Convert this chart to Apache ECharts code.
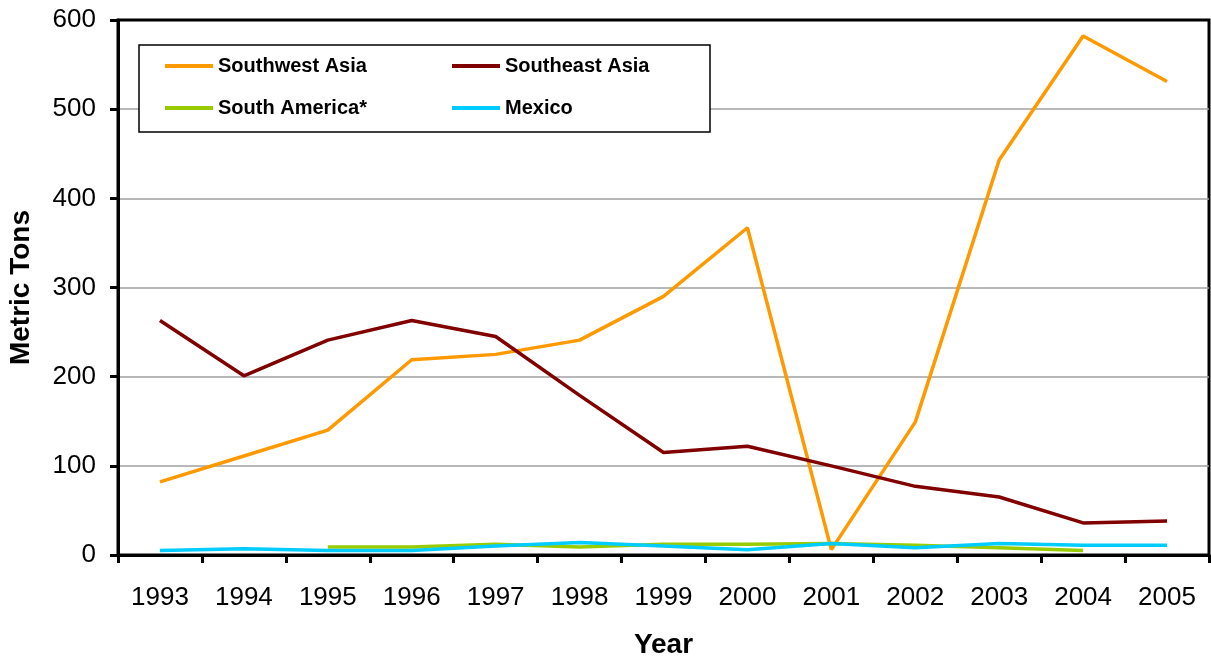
<!DOCTYPE html>
<html>
<head>
<meta charset="utf-8">
<script src="https://cdn.jsdelivr.net/npm/echarts@6/dist/echarts.min.js"></script>
<style>
  html, body { margin: 0; padding: 0; background: #fff; }
  #chart { width: 1211px; height: 658px; }
</style>
</head>
<body>
<div id="chart"></div>
<script>
const years = ['1993', '1994', '1995', '1996', '1997', '1998', '1999', '2000', '2001', '2002', '2003', '2004', '2005'];
const southwestAsia = [82, 111, 140, 219, 225, 241, 290, 367, 6, 149, 443, 582, 531];
const southeastAsia = [263, 201, 241, 263, 245, 179, 115, 122, 100, 77, 65, 36, 38];
const southAmerica = [null, null, 9, 9, 12, 9, 12, 12, 13, 11, 8, 5, null];
const mexico = [5, 7, 5, 5, 10, 14, 10, 6, 13, 8, 13, 11, 11];

const font = "'Liberation Sans', Arial, sans-serif";

const chart = echarts.init(document.getElementById('chart'));

const lineSeries = (name, data, color) => ({
  name,
  type: 'line',
  data,
  symbol: 'none',
  connectNulls: false,
  lineStyle: { color, width: 3.5 },
  itemStyle: { color },
  emphasis: { disabled: true },
});

const legendBase = {
  orient: 'vertical',
  top: 56,
  padding: 0,
  icon: 'rect',
  itemWidth: 48,
  itemHeight: 4,
  itemGap: 22,
  textStyle: { fontFamily: font, fontSize: 20, fontWeight: 'bold', color: '#000' },
  z: 5,
};

chart.setOption({
  animation: false,
  grid: {
    left: 118, right: 2, top: 20, bottom: 103,
    outerBoundsMode: 'none',
    containLabel: false,
    show: true, borderColor: '#000', borderWidth: 3,
  },
  graphic: [{
    type: 'rect',
    shape: { x: 139, y: 45, width: 571, height: 87 },
    style: { fill: '#fff', stroke: '#000', lineWidth: 1.5 },
    z: 3,
  }],
  legend: [
    Object.assign({ left: 165, data: ['Southwest Asia', 'South America*'] }, legendBase),
    Object.assign({ left: 452, data: ['Southeast Asia', 'Mexico'] }, legendBase),
  ],
  xAxis: {
    type: 'category',
    data: years,
    boundaryGap: true,
    name: 'Year',
    nameLocation: 'middle',
    nameGap: 76,
    nameTextStyle: { fontFamily: font, fontSize: 28, fontWeight: 'bold', color: '#000' },
    axisLine: { lineStyle: { color: '#000', width: 3 } },
    axisTick: { show: true, length: 8, lineStyle: { color: '#000', width: 3 } },
    axisLabel: { fontFamily: font, fontSize: 26, color: '#000', margin: 30, interval: 0 },
  },
  yAxis: {
    type: 'value',
    min: 0,
    max: 600,
    interval: 100,
    name: 'Metric Tons',
    nameLocation: 'middle',
    nameGap: 83,
    nameTextStyle: { fontFamily: font, fontSize: 28, fontWeight: 'bold', color: '#000' },
    axisLine: { show: true, lineStyle: { color: '#000', width: 3 } },
    axisTick: { show: true, length: 8, lineStyle: { color: '#000', width: 3 } },
    axisLabel: { fontFamily: font, fontSize: 26, color: '#000', margin: 22 },
    splitLine: { showMaxLine: false, showMinLine: false, lineStyle: { color: '#a0a0a0', width: 1.5 } },
  },
  series: [
    lineSeries('Southwest Asia', southwestAsia, '#ff9900'),
    lineSeries('Southeast Asia', southeastAsia, '#800000'),
    lineSeries('South America*', southAmerica, '#99cc00'),
    lineSeries('Mexico', mexico, '#00ccff'),
  ],
});
</script>
</body>
</html>
